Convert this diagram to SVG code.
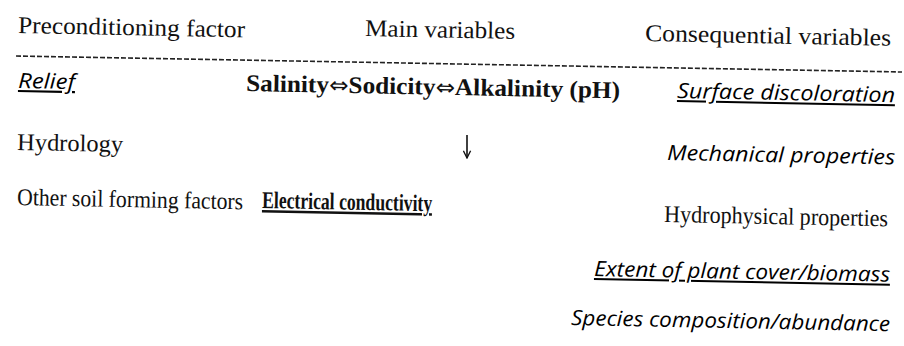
<svg xmlns="http://www.w3.org/2000/svg" width="904" height="346" viewBox="0 0 904 346">
<style>
.t{font-family:"Liberation Serif","Times New Roman",serif;font-size:24px;fill:#111}
.b{font-weight:bold}
.i{font-family:"Open Sans","Noto Sans",sans-serif;font-style:italic;font-size:21px}
.u{text-decoration:underline}
.ar{font-family:"DejaVu Sans",sans-serif;font-weight:normal;font-size:22px}
.rule{stroke:#222;stroke-width:1.6;stroke-dasharray:5 2;fill:none}
.arr{stroke:#111;stroke-width:1.6;fill:none}
</style>
<defs>
<marker id="head" viewBox="0 0 10 10" refX="9" refY="5" markerWidth="9" markerHeight="9" markerUnits="userSpaceOnUse" orient="auto">
<path d="M1,1 L9,5 L1,9" fill="none" stroke="#111" stroke-width="1.5"/>
</marker>
</defs>
<rect width="904" height="346" fill="#fff"/>
<g id="header">
<g id="h-pre"><text class="t" x="18" y="33" textLength="227" lengthAdjust="spacingAndGlyphs" transform="rotate(1.1 18 33)">Preconditioning factor</text></g>
<g id="h-main"><text class="t" x="365" y="36" textLength="150" lengthAdjust="spacingAndGlyphs" transform="rotate(1.1 365 36)">Main variables</text></g>
<g id="h-cons"><text class="t" x="645" y="41" textLength="246" lengthAdjust="spacingAndGlyphs" transform="rotate(1.1 645 41)">Consequential variables</text></g>
</g>
<line class="rule" x1="16" y1="56" x2="902" y2="72"/>
<g id="n-relief"><text class="i u" x="18" y="88" textLength="57" lengthAdjust="spacingAndGlyphs" transform="rotate(1.1 18 88)">Relief</text></g>
<g id="n-hydrology"><text class="t" x="17" y="150" textLength="106" lengthAdjust="spacingAndGlyphs" transform="rotate(1.1 17 150)">Hydrology</text></g>
<g id="n-other"><text class="t" x="17" y="205" textLength="226" lengthAdjust="spacingAndGlyphs" transform="rotate(1.1 17 205)">Other soil forming factors</text></g>
<g id="n-salinity"><text class="t b" x="246" y="91" textLength="374" lengthAdjust="spacingAndGlyphs" transform="rotate(1.1 246 91)">Salinity<tspan class="ar">⇔</tspan>Sodicity<tspan class="ar">⇔</tspan>Alkalinity (pH)</text></g>
<g id="n-ec"><text class="t b u" x="262" y="208" font-size="21" textLength="170" lengthAdjust="spacingAndGlyphs" transform="rotate(1.1 262 208)">Electrical conductivity</text></g>
<g id="n-surface"><text class="i u" x="677" y="98" textLength="218" lengthAdjust="spacingAndGlyphs" transform="rotate(1.1 677 98)">Surface discoloration</text></g>
<g id="n-mech"><text class="i" x="667" y="160" textLength="228" lengthAdjust="spacingAndGlyphs" transform="rotate(1.1 667 160)">Mechanical properties</text></g>
<g id="n-hydro"><text class="t" x="664" y="222" font-size="23" textLength="224" lengthAdjust="spacingAndGlyphs" transform="rotate(1.1 664 222)">Hydrophysical properties</text></g>
<g id="n-extent"><text class="i u" x="594" y="276" textLength="296" lengthAdjust="spacingAndGlyphs" transform="rotate(1.1 594 276)">Extent of plant cover/biomass</text></g>
<g id="n-species"><text class="i" x="571" y="325" textLength="319" lengthAdjust="spacingAndGlyphs" transform="rotate(1.1 571 325)">Species composition/abundance</text></g>
<g id="connectors">
<line class="arr" x1="467" y1="135" x2="467" y2="158" marker-end="url(#head)"/>
</g>
</svg>
